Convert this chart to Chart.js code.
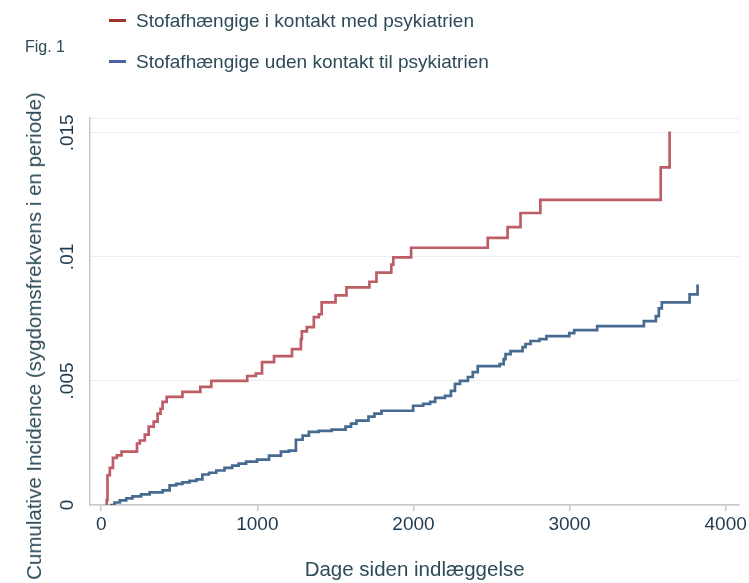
<!DOCTYPE html>
<html>
<head>
<meta charset="utf-8">
<script src="https://cdn.jsdelivr.net/npm/chart.js@4.4.0/dist/chart.umd.min.js"></script>
<style>
  body { margin: 0; background: #fff; }
  #wrap { position: relative; width: 749px; height: 583px; font-family: "Liberation Sans", Arial, sans-serif; color: #2d4b57; }
  canvas { position: absolute; left: 0; top: 0; }
  .fig { position: absolute; left: 25px; top: 38px; font-size: 16px; }
  .leg { position: absolute; left: 109px; font-size: 19px; white-space: nowrap; line-height: 22px; }
  .leg i { display: inline-block; width: 17px; height: 3px; vertical-align: middle; margin-right: 10px; position: relative; top: -1px; }
  .ytitle { position: absolute; left: 34px; top: 336px; font-size: 20.5px; white-space: nowrap;
            transform: translate(-50%, -50%) rotate(-90deg); }
</style>
</head>
<body>
<div id="wrap">
  <canvas id="chart" width="749" height="583"></canvas>
  <div class="fig">Fig. 1</div>
  <div class="leg" style="top:10px"><i style="background:#a3312c"></i>Stofafhængige i kontakt med psykiatrien</div>
  <div class="leg" style="top:51px"><i style="background:#4b62a3"></i>Stofafhængige uden kontakt til psykiatrien</div>
  <div class="ytitle">Cumulative Incidence (sygdomsfrekvens i en periode)</div>
</div>
<script>
// series (days since admission, cumulative incidence)
const redDays = [30, 35, 40, 55, 75, 100, 130, 229, 247, 279, 304, 336, 361, 380, 393, 419, 520, 635, 705,
  935, 990, 1030, 1107, 1222, 1279, 1285, 1317, 1362, 1394, 1412, 1501, 1571, 1718, 1763, 1858, 1871,
  1985, 2476, 2603, 2686, 2813, 3584, 3641];
const redValues = [0, 0.0002, 0.0012, 0.0015, 0.0019, 0.002, 0.00215, 0.00248, 0.0026, 0.00284, 0.00316,
  0.00336, 0.00368, 0.00388, 0.00416, 0.00436, 0.00456, 0.00476, 0.005, 0.0052, 0.0053, 0.00576, 0.006,
  0.00628, 0.00669, 0.007, 0.00717, 0.00757, 0.00769, 0.00817, 0.00845, 0.00877, 0.009, 0.00937, 0.00969,
  0.00998, 0.01037, 0.01077, 0.0112, 0.01177, 0.0123, 0.01361, 0.01506];

const blueDays = [55, 85, 119, 160, 200, 255, 310, 393, 438, 480, 520, 565, 610, 648, 690, 737, 790, 839,
  880, 928, 998, 1075, 1151, 1202, 1247, 1290, 1330, 1393, 1476, 1565, 1600, 1635, 1712, 1750, 1795, 1998,
  2062, 2107, 2139, 2202, 2240, 2266, 2298, 2349, 2380, 2412, 2552, 2578, 2590, 2622, 2699, 2718, 2750,
  2807, 2852, 2998, 3030, 3177, 3476, 3553, 3572, 3591, 3769, 3820];
const blueValues = [0, 0.0001, 0.00019, 0.00027, 0.00035, 0.00043, 0.00051, 0.00059, 0.00079, 0.00085,
  0.00091, 0.00097, 0.00103, 0.00123, 0.0013, 0.00139, 0.0015, 0.00159, 0.00167, 0.00175, 0.00183,
  0.00199, 0.00215, 0.00219, 0.00263, 0.0028, 0.00295, 0.00299, 0.00304, 0.00316, 0.00328, 0.0034,
  0.00356, 0.00368, 0.0038, 0.004, 0.00408, 0.00416, 0.00432, 0.0044, 0.0046, 0.00488, 0.005, 0.00516,
  0.00536, 0.0056, 0.00568, 0.00588, 0.00608, 0.0062, 0.00636, 0.00649, 0.00661, 0.00669, 0.00681,
  0.00693, 0.00705, 0.00721, 0.00741, 0.00761, 0.00793, 0.00817, 0.00849, 0.00889];

const seriesNames = ['Stofafhængige i kontakt med psykiatrien', 'Stofafhængige uden kontakt til psykiatrien'];
const xTickValues = [0, 1000, 2000, 3000, 4000];
const yTickValues = [0, 0.005, 0.01, 0.015];
const yTickLabels = ['0', '.005', '.01', '.015'];

const toPoints = (xs, ys) => xs.map((x, i) => ({ x: x, y: ys[i] }));
const fam = '"Liberation Sans", Arial, sans-serif';
const tickFont = { family: fam, size: 19 };
const X_MIN = -72, X_MAX = 4087;

new Chart(document.getElementById('chart'), {
  type: 'line',
  data: {
    datasets: [
      { label: seriesNames[0], data: toPoints(redDays, redValues), borderColor: '#bd5d65', borderWidth: 2.7,
        stepped: 'before', pointRadius: 0, fill: false },
      { label: seriesNames[1], data: toPoints(blueDays, blueValues), borderColor: '#476b90', borderWidth: 2.7,
        stepped: 'before', pointRadius: 0, fill: false }
    ]
  },
  options: {
    responsive: false,
    animation: false,
    layout: { padding: { top: 118, right: 6, left: 0, bottom: 0 } },
    plugins: { legend: { display: false }, tooltip: { enabled: false } },
    scales: {
      x: {
        type: 'linear', min: X_MIN, max: X_MAX,
        afterBuildTicks: s => { s.ticks = xTickValues.map(v => ({ value: v })); },
        afterFit: s => { s.height = 78; },
        ticks: { color: '#1f3a4d', font: tickFont, padding: 2, maxRotation: 0, autoSkip: false,
                 callback: v => String(v) },
        grid: { display: true, drawOnChartArea: false, drawTicks: true, tickLength: 6, color: '#c8c8c8', lineWidth: 1.5 },
        border: { color: '#c8c8c8', width: 1.5 },
        title: { display: true, text: 'Dage siden indlæggelse', color: '#2d4b57',
                 font: { family: fam, size: 20.5 }, padding: { top: 0, bottom: 0 } }
      },
      x2: {
        type: 'linear', position: 'top', min: X_MIN, max: X_MAX,
        afterFit: s => { s.height = 0; },
        ticks: { display: false },
        grid: { display: false },
        border: { display: true, color: '#eef2f4', width: 1 }
      },
      y: {
        min: 0, max: 0.0156,
        afterBuildTicks: s => { s.ticks = yTickValues.map(v => ({ value: v })); },
        afterFit: s => { s.width = 90; },
        ticks: { color: '#1f3a4d', font: tickFont, padding: 3.5, minRotation: 90, maxRotation: 90,
                 crossAlign: 'center', autoSkip: false,
                 callback: (v, i) => yTickLabels[i] },
        grid: { color: '#e9eff2', lineWidth: 1, drawTicks: false, tickLength: 0 },
        border: { color: '#c8c8c8', width: 1.5 }
      }
    }
  }
});
</script>
</body>
</html>
